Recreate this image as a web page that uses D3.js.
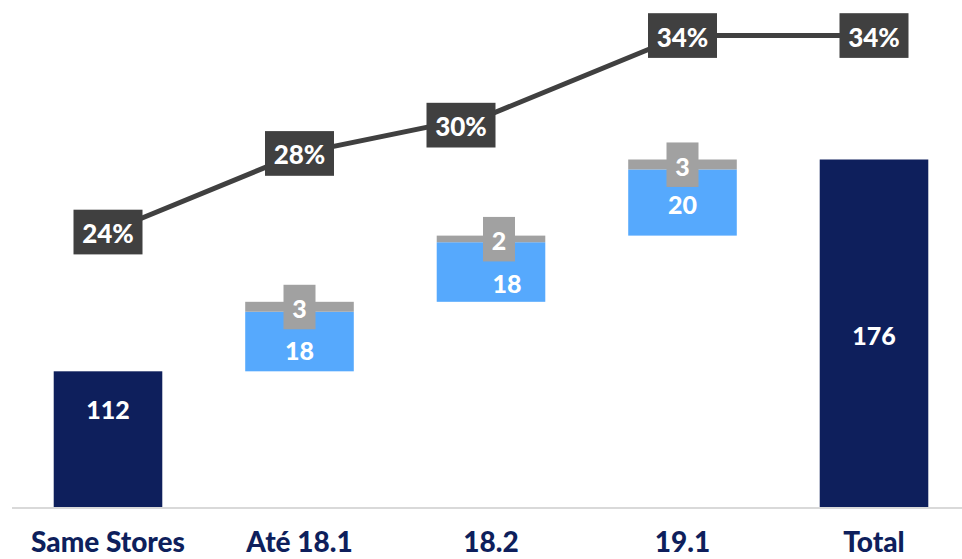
<!DOCTYPE html>
<html>
<head>
<meta charset="utf-8">
<script src="https://cdn.jsdelivr.net/npm/d3@7"></script>
<style>
  html, body { margin: 0; padding: 0; background: #ffffff; }
  svg { display: block; font-family: Lato, "Open Sans", sans-serif; }
</style>
</head>
<body>
<svg id="chart" width="962" height="559"></svg>
<script>
// Store count bridge: same stores + openings by cohort = total
const categories = ["Same Stores", "Até 18.1", "18.2", "19.1", "Total"];
const totalStores = [112, null, null, null, 176];
const newStores   = [null, 18, 18, 20, null];
const extraStores = [null, 3, 2, 3, null];
const marginPct   = [24, 28, 30, 34, 34];

const NAVY = "#0e1f5c", BLUE = "#56a9fd", GREY = "#a1a1a1", DARK = "#404040";

const svg = d3.select("#chart");

// Build waterfall segments
let running = 0;
const rows = categories.map((c, i) => {
  const r = { cat: c, i };
  if (totalStores[i] != null) {
    r.total = totalStores[i];
    running = totalStores[i];
  } else {
    r.base = running;
    r.blueTop = running + newStores[i];
    r.greyTop = r.blueTop + extraStores[i];
    r.blue = newStores[i];
    r.extra = extraStores[i];
    running = r.greyTop;
  }
  r.pct = marginPct[i];
  return r;
});

const x = d3.scaleBand()
  .domain(categories)
  .range([12.25, 969.75])
  .paddingInner(0.433)
  .paddingOuter(0.2165);

// value axis does not start at zero
const y = d3.scaleLinear()
  .domain([71, d3.max(totalStores)])
  .range([507, 159.5]);

const yPct = d3.scaleLinear()
  .domain([24, 34])
  .range([232, 35.5]);

const cx = c => x(c) + x.bandwidth() / 2;

// baseline
svg.append("line")
  .attr("x1", 12).attr("x2", 962)
  .attr("y1", 508).attr("y2", 508)
  .attr("stroke", "#d9d9d9").attr("stroke-width", 2);

const g = svg.append("g");

// total bars
const totals = rows.filter(r => r.total != null);
g.selectAll("rect.total").data(totals).join("rect")
  .attr("class", "total")
  .attr("x", d => x(d.cat)).attr("width", x.bandwidth())
  .attr("y", d => y(d.total)).attr("height", d => y.range()[0] - y(d.total))
  .attr("fill", NAVY);

// floating segments
const steps = rows.filter(r => r.total == null);
g.selectAll("rect.blue").data(steps).join("rect")
  .attr("class", "blue")
  .attr("x", d => x(d.cat)).attr("width", x.bandwidth())
  .attr("y", d => y(d.blueTop)).attr("height", d => y(d.base) - y(d.blueTop))
  .attr("fill", BLUE);

g.selectAll("rect.grey").data(steps).join("rect")
  .attr("class", "grey")
  .attr("x", d => x(d.cat)).attr("width", x.bandwidth())
  .attr("y", d => y(d.greyTop)).attr("height", d => y(d.blueTop) - y(d.greyTop))
  .attr("fill", GREY);

// labels on totals
const totalDy = { "Same Stores": -30, "Total": 2 };
g.selectAll("text.totalLbl").data(totals).join("text")
  .attr("class", "totalLbl")
  .attr("x", d => cx(d.cat))
  .attr("y", d => (y(d.total) + y.range()[0]) / 2 + (totalDy[d.cat] || 0))
  .attr("text-anchor", "middle").attr("dominant-baseline", "central")
  .attr("fill", "#fff").attr("font-weight", 900).attr("font-size", 25)
  .text(d => d.total);

// labels on new-store segments
const blueDx = { "18.2": 16 };
const blueDy = { "Até 18.1": 8, "18.2": 11, "19.1": 1 };
g.selectAll("text.blueLbl").data(steps).join("text")
  .attr("class", "blueLbl")
  .attr("x", d => cx(d.cat) + (blueDx[d.cat] || 0))
  .attr("y", d => (y(d.base) + y(d.blueTop)) / 2 + (blueDy[d.cat] || 0))
  .attr("text-anchor", "middle").attr("dominant-baseline", "central")
  .attr("fill", "#fff").attr("font-weight", 900).attr("font-size", 25)
  .text(d => d.blue);

// labels on extra segments, with grey tag behind
const greyDx = { "18.2": 8 };
const tags = g.selectAll("g.tag").data(steps).join("g")
  .attr("class", "tag")
  .attr("transform", d => `translate(${cx(d.cat) + (greyDx[d.cat] || 0)},${(y(d.blueTop) + y(d.greyTop)) / 2})`);
tags.append("rect")
  .attr("x", -16).attr("y", -22).attr("width", 32).attr("height", 44.5)
  .attr("fill", GREY);
tags.append("text")
  .attr("y", 1.5)
  .attr("text-anchor", "middle").attr("dominant-baseline", "central")
  .attr("fill", "#fff").attr("font-weight", 900).attr("font-size", 25)
  .text(d => d.extra);

// margin line
const line = d3.line().x(d => cx(d.cat)).y(d => yPct(d.pct));
svg.append("path")
  .datum(rows)
  .attr("d", line)
  .attr("fill", "none").attr("stroke", DARK).attr("stroke-width", 5);

const pctOffset = { "18.2": [-30, 11] };
const pl = svg.selectAll("g.pct").data(rows).join("g")
  .attr("class", "pct")
  .attr("transform", d => {
    const o = pctOffset[d.cat] || [0, 0];
    return `translate(${cx(d.cat) + o[0]},${yPct(d.pct) + o[1]})`;
  });
pl.append("rect")
  .attr("x", -34.5).attr("y", -22.3).attr("width", 69).attr("height", 44.7)
  .attr("fill", DARK);
pl.append("text")
  .attr("y", 1)
  .attr("text-anchor", "middle").attr("dominant-baseline", "central")
  .attr("fill", "#fff").attr("font-weight", 900).attr("font-size", 26)
  .text(d => d.pct + "%");

// category axis labels
svg.selectAll("text.cat").data(categories).join("text")
  .attr("class", "cat")
  .attr("x", d => cx(d)).attr("y", 552)
  .attr("text-anchor", "middle")
  .attr("fill", NAVY).attr("font-weight", 900).attr("font-size", 28)
  .text(d => d);
</script>
</body>
</html>
